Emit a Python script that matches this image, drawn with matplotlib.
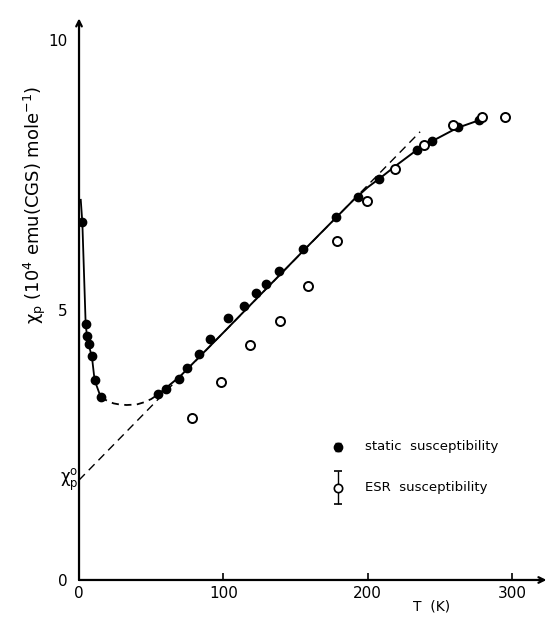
import matplotlib
matplotlib.use("Agg")
import matplotlib.pyplot as plt

# static susceptibility (filled dots)
static_T = [2.3, 4.6, 5.5, 6.7, 9.0, 10.8, 15.0, 54.7, 60.5, 69.0, 74.5, 83.4,
            90.8, 103.0, 114.5, 123.0, 129.8, 138.6, 155.2, 178.3, 193.6, 208.0,
            234.4, 244.6, 262.6, 277.2]
static_chi = [6.62, 4.74, 4.52, 4.37, 4.14, 3.70, 3.39, 3.44, 3.54, 3.73, 3.93, 4.18,
              4.46, 4.85, 5.08, 5.32, 5.49, 5.73, 6.12, 6.73, 7.09, 7.43,
              7.96, 8.13, 8.38, 8.51]

# ESR susceptibility (open circles)
esr_T = [78.5, 98.4, 118.5, 139.3, 158.7, 179.0, 199.3, 219.0, 239.0, 259.0, 279.0, 295.0]
esr_chi = [3.00, 3.66, 4.35, 4.80, 5.44, 6.27, 7.02, 7.61, 8.06, 8.43, 8.57, 8.58]

# guide curves
low_T = [1.2, 2.3, 4.6, 5.5, 6.7, 9.0, 10.8, 15.0]
low_chi = [7.04, 6.62, 4.74, 4.52, 4.36, 4.12, 3.70, 3.39]
mid_T = [15.0, 20.0, 24.0, 28.0, 33.0, 40.0, 45.0, 50.0, 55.0]
mid_chi = [3.39, 3.31, 3.27, 3.25, 3.24, 3.25, 3.29, 3.35, 3.44]
high_T = [55, 70, 100, 130, 160, 190, 200, 210, 220, 234, 245, 262, 278]
high_chi = [3.44, 3.77, 4.58, 5.40, 6.22, 7.03, 7.27, 7.47, 7.68, 7.96, 8.13, 8.37, 8.52]

# Curie-Weiss asymptote: chi_p^0 intercept to upper end
asym_T = [0.0, 236.4]
asym_chi = [1.85, 8.30]

x_ticks = [0, 100, 200, 300]
y_ticks = [0, 5, 10]

fig = plt.figure(figsize=(5.48, 6.17), dpi=100)
ax = fig.add_axes([0.1442, 0.0600, 0.8504, 0.9076])
ax.set_xlim(0, 323)
ax.set_ylim(0, 10.37)
for s in ax.spines.values():
    s.set_visible(False)

ink = "black"
ax.plot(low_T, low_chi, color=ink, lw=1.3)
ax.plot(mid_T, mid_chi, color=ink, lw=1.3, dashes=(4, 3))
ax.plot(high_T, high_chi, color=ink, lw=1.4)
ax.plot(asym_T, asym_chi, color=ink, lw=1.0, dashes=(6, 4))

ax.plot(static_T, static_chi, "o", color=ink, ms=6, zorder=5)
ax.plot(esr_T, esr_chi, "o", mfc="white", mec=ink, mew=1.4, ms=6.5, zorder=5)

# axes drawn as arrows
ax.annotate("", xy=(0, 10.4), xytext=(0, 0), xycoords="data",
            arrowprops=dict(arrowstyle="->", lw=1.6, color=ink, shrinkA=0, shrinkB=0),
            annotation_clip=False)
ax.annotate("", xy=(324, 0), xytext=(0, 0), xycoords="data",
            arrowprops=dict(arrowstyle="->", lw=1.6, color=ink, shrinkA=0, shrinkB=0),
            annotation_clip=False)

ax.set_xticks(x_ticks)
ax.set_yticks(y_ticks)
ax.tick_params(axis="x", direction="in", length=5, width=1.2, labelsize=11, pad=4)
ax.tick_params(axis="y", length=0, labelsize=11, pad=8)
ax.set_xticklabels([str(v) for v in x_ticks])
ax.set_yticklabels([str(v) for v in y_ticks])

ax.text(-0.094, 0.67, r"$\mathregular{\chi_p}$ (10$^4$ emu(CGS) mole$^{-1}$)",
        transform=ax.transAxes, rotation=90, ha="center", va="center", fontsize=13)
ax.text(-0.015, asym_chi[0], r"$\mathregular{\chi_p^o}$", ha="right", va="center", fontsize=12)
ax.text(0.757, -0.048, "T  (K)", transform=ax.transAxes, ha="center", va="center", fontsize=10)

# legend
ax.errorbar([0.555], [0.238], yerr=[0.007], fmt="o", color=ink, ms=6, capsize=2,
            elinewidth=1.0, transform=ax.transAxes, clip_on=False)
ax.errorbar([0.555], [0.165], yerr=[0.0295], fmt="o", mfc="white", mec=ink, mew=1.2,
            ms=6, ecolor=ink, capsize=3, elinewidth=1.0, transform=ax.transAxes, clip_on=False)
ax.text(0.614, 0.238, "static  susceptibility", transform=ax.transAxes, va="center", fontsize=9.5)
ax.text(0.614, 0.165, "ESR  susceptibility", transform=ax.transAxes, va="center", fontsize=9.5)

fig.savefig("out.png", dpi=100)
